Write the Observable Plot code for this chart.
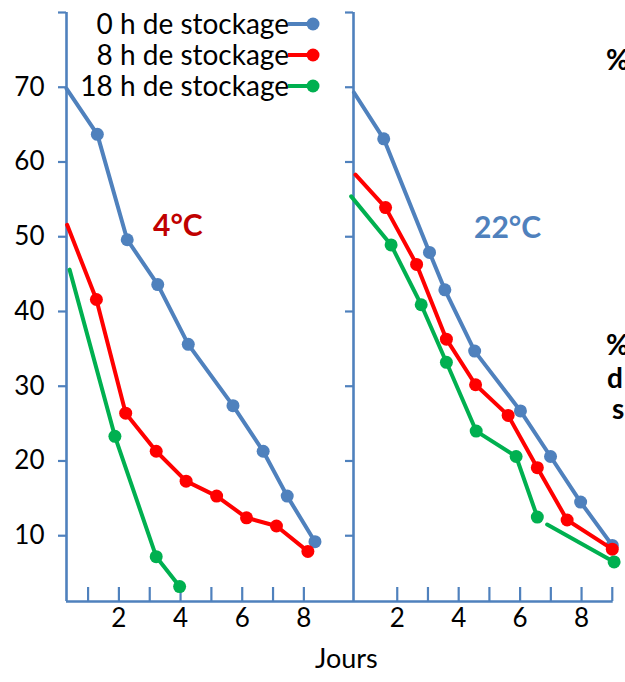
<!DOCTYPE html>
<html><head><meta charset="utf-8">
<script src="https://cdn.jsdelivr.net/npm/d3@7"></script>
<script src="https://cdn.jsdelivr.net/npm/@observablehq/plot@0.6"></script>
<style>
body{margin:0;background:#fff;}
#root{position:relative;width:625px;height:682px;overflow:hidden;font-family:Lato,"Open Sans",sans-serif;color:#000;}
.abs{position:absolute;white-space:nowrap;}
</style></head>
<body><div id="root"></div>
<script>
// ---- data ----
const series = ["0 h de stockage", "8 h de stockage", "18 h de stockage"];
const colors = ["#4F81BD", "#FF0000", "#00B050"];
const panels = ["4°C", "22°C"];

// 4°C (first point of each line = line start on the axis, no marker)
const jours4_0h  = [0.30, 1.30, 2.27, 3.26, 4.25, 5.70, 6.68, 7.46, 8.36];
const surv4_0h   = [69.8, 63.7, 49.6, 43.6, 35.6, 27.4, 21.3, 15.3, 9.2];
const jours4_8h  = [0.32, 1.27, 2.22, 3.21, 4.18, 5.17, 6.14, 7.11, 8.13];
const surv4_8h   = [51.6, 41.6, 26.4, 21.3, 17.3, 15.3, 12.4, 11.3, 7.9];
const jours4_18h = [0.40, 1.87, 3.21, 3.97];
const surv4_18h  = [45.6, 23.3, 7.2, 3.2];

// 22°C (null = break in the line)
const jours22_0h  = [0.59, 1.56, 3.05, 3.55, 4.52, 6.01, 6.99, 7.97, 9.00];
const surv22_0h   = [69.3, 63.1, 47.9, 42.9, 34.7, 26.7, 20.6, 14.5, 8.7];
const jours22_8h  = [0.64, 1.62, 2.63, 3.60, 4.55, 5.61, 6.56, 7.53, 9.00];
const surv22_8h   = [58.3, 53.9, 46.3, 36.3, 30.2, 26.1, 19.1, 12.1, 8.2];
const jours22_18h = [0.50, 1.80, 2.78, 3.60, 4.57, 5.87, 6.56, null, 6.88, 9.06];
const surv22_18h  = [55.4, 48.9, 40.9, 33.2, 24.0, 20.6, 12.5, null, 11.5, 6.5];

const yTicks = [10, 20, 30, 40, 50, 60, 70, 80];
const yTickLabels = ["10", "20", "30", "40", "50", "60", "70", ""];
const xTicks4 = [1, 2, 3, 4, 5, 6, 7, 8];
const xTicks22 = [2, 3, 4, 5, 6, 7, 8, 9];
const xTickLabels = [2, 4, 6, 8];
const xTitle = "Jours";

// ---- helpers ----
const axisColor = "#4F81BD";
const yMin = 1.2, yMax = 80;
function rows(xs, ys, s) {
  return xs.map((x, i) => ({
    x: x, y: ys[i], s,
    marker: x != null && i > 0 && xs[i - 1] != null
  }));
}
const data4 = [rows(jours4_0h, surv4_0h, series[0]), rows(jours4_8h, surv4_8h, series[1]), rows(jours4_18h, surv4_18h, series[2])];
const data22 = [rows(jours22_0h, surv22_0h, series[0]), rows(jours22_8h, surv22_8h, series[1]), rows(jours22_18h, surv22_18h, series[2])];

function panel({width, marginLeft, marginRight, xDomain, xTicks, showYLabels, data}) {
  const H = 640, mt = 12, mb = 39;
  const pxPerUnit = (H - mt - mb) / (yMax - yMin);
  const seriesMarks = data.flatMap(d => [
    Plot.line(d, {x: "x", y: "y", stroke: "s", strokeWidth: 4, strokeLinejoin: "round"}),
    Plot.dot(d.filter(p => p.marker), {x: "x", y: "y", fill: "s", r: 6.5})
  ]);
  return Plot.plot({
    width, height: H, marginLeft, marginRight, marginTop: mt, marginBottom: mb,
    style: {fontFamily: "Lato, 'Open Sans', sans-serif", fontSize: "26px", color: "#000", background: "transparent", overflow: "visible", maxWidth: "none"},
    x: {domain: xDomain, axis: null},
    y: {domain: [yMin, yMax], axis: null},
    color: {domain: series, range: colors},
    marks: [
      Plot.ruleY([yMin], {stroke: axisColor, strokeWidth: 2.4}),
      Plot.ruleX([xDomain[0]], {stroke: axisColor, strokeWidth: 2.6}),
      Plot.ruleX(xTicks, {x: d => d, y1: yMin, y2: yMin + 14 / pxPerUnit, stroke: axisColor, strokeWidth: 2.2}),
      Plot.axisX(xTickLabels, {tickSize: 0, tickPadding: 7, fontSize: 26, label: null, fill: "#000"}),
      Plot.axisY(yTicks, {tickSize: 8, tickPadding: showYLabels ? 14 : 0, stroke: axisColor, strokeWidth: 2.2,
        fontSize: 26, fill: "#000", label: null,
        tickFormat: showYLabels ? (d => yTickLabels[yTicks.indexOf(d)]) : (() => "")}),
      ...seriesMarks
    ]
  });
}

const root = document.getElementById("root");
const left = panel({width: 353, marginLeft: 66, marginRight: 0, xDomain: [0.30, 9.61], xTicks: xTicks4, showYLabels: true, data: data4});
left.style.position = "absolute"; left.style.left = "0px"; left.style.top = "0px";
root.appendChild(left);
const right = panel({width: 295, marginLeft: 23, marginRight: 12.3, xDomain: [0.576, 9.03], xTicks: xTicks22, showYLabels: false, data: data22});
right.style.position = "absolute"; right.style.left = "330px"; right.style.top = "0px";
root.appendChild(right);

function addText(txt, css) {
  const d = document.createElement("div");
  d.className = "abs";
  d.textContent = txt;
  Object.assign(d.style, css);
  root.appendChild(d);
  return d;
}
// panel labels
addText(panels[0], {left: "153px", top: "206px", fontSize: "30px", fontWeight: "bold", color: "#C00000"});
addText(panels[1], {left: "474px", top: "208px", fontSize: "30px", fontWeight: "bold", color: "#4F81BD"});
// x title
addText(xTitle, {left: "315px", top: "641px", fontSize: "27px"});
// cropped right-side text
addText("%", {left: "606px", top: "45px", fontSize: "28px", fontWeight: "bold", lineHeight: "28px"});
addText("%", {left: "606px", top: "330px", fontSize: "28px", fontWeight: "bold", lineHeight: "28px"});
addText("d", {left: "607px", top: "363px", fontSize: "28px", fontWeight: "bold", lineHeight: "28px"});
addText("s", {left: "612px", top: "394px", fontSize: "28px", fontWeight: "bold", lineHeight: "28px"});

// legend
const legendY = [24, 55, 86];
series.forEach((s, i) => {
  addText(s, {right: (625 - 289) + "px", top: (legendY[i] - 15) + "px", fontSize: "28px", lineHeight: "28px"});
  const svgNS = "http://www.w3.org/2000/svg";
  const svg = document.createElementNS(svgNS, "svg");
  svg.setAttribute("width", 40); svg.setAttribute("height", 20);
  Object.assign(svg.style, {position: "absolute", left: "285px", top: (legendY[i] - 10) + "px", overflow: "visible"});
  const ln = document.createElementNS(svgNS, "line");
  ln.setAttribute("x1", 3); ln.setAttribute("x2", 28); ln.setAttribute("y1", 10); ln.setAttribute("y2", 10);
  ln.setAttribute("stroke", colors[i]); ln.setAttribute("stroke-width", 4);
  const c = document.createElementNS(svgNS, "circle");
  c.setAttribute("cx", 28); c.setAttribute("cy", 10); c.setAttribute("r", 6.5); c.setAttribute("fill", colors[i]);
  svg.appendChild(ln); svg.appendChild(c);
  root.appendChild(svg);
});
</script>
</body></html>
